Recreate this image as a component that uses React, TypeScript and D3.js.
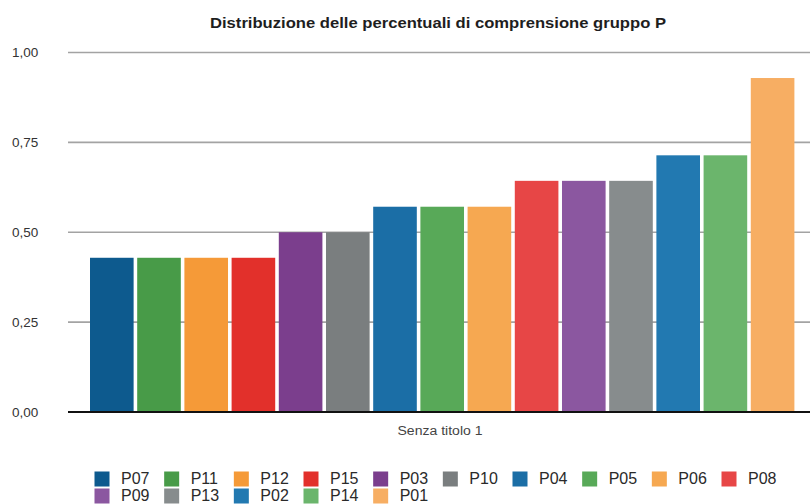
import * as d3 from "d3";

// bars, left to right (same order as the legend)
const categories = ["P07", "P11", "P12", "P15", "P03", "P10", "P04", "P05", "P06", "P08", "P09", "P13", "P02", "P14", "P01"];
const values = [0.429, 0.429, 0.429, 0.429, 0.5, 0.5, 0.571, 0.571, 0.571, 0.643, 0.643, 0.643, 0.714, 0.714, 0.929];
const colors = ["#0d5a8e", "#489b48", "#f59a38", "#e2302b", "#7b3e8d", "#7a7e7f", "#1b6ea6", "#58a958", "#f6a851", "#e74646", "#8b57a0", "#878c8d", "#2279b1", "#6bb56c", "#f7ae63"];
const yTicks = [0, 0.25, 0.5, 0.75, 1];

const title = "Distribuzione delle percentuali di comprensione gruppo P";
const xTitle = "Senza titolo 1";

const W = 810;
const H = 504;
const FONT = "'Liberation Sans', Arial, Helvetica, sans-serif";

const App = () => {
  const x = d3.scaleBand<string>()
    .domain(categories)
    .range([90, 794.4])
    .paddingInner(0.076)
    .paddingOuter(0);

  const y = d3.scaleLinear()
    .domain([0, 1])
    .range([412, 52.5]);

  const fmt = (v: number) => d3.format(".2f")(v).replace(".", ",");

  // legend: 10 per row
  const perRow = 10;
  const legX = d3.scaleLinear().domain([0, perRow - 1]).range([95, 722]);
  const legY = [479, 496];

  return (
    <svg width={W} height={H} style={{ position: "absolute", left: 0, top: 0, background: "#fff" }} fontFamily={FONT}>
      <text x={438} y={28} textAnchor="middle" fontSize={15} fontWeight="bold" fill="#1e1e1e" textLength={456} lengthAdjust="spacingAndGlyphs">
        {title}
      </text>

      {yTicks.map((t) => (
        <g key={t}>
          {t > 0 && <line x1={68} x2={W} y1={y(t)} y2={y(t)} stroke="#a3a3a3" strokeWidth={1.6} />}
          <text x={12} y={y(t) + 1} dominantBaseline="middle" fontSize={13.5} fill="#333">
            {fmt(t)}
          </text>
        </g>
      ))}

      {categories.map((c, i) => (
        <rect key={c} x={x(c)} y={y(values[i])} width={x.bandwidth()} height={y(0) - y(values[i])} fill={colors[i]} />
      ))}

      <line x1={68} x2={W} y1={y(0)} y2={y(0)} stroke="#111" strokeWidth={2} />

      <text x={440} y={435} textAnchor="middle" fontSize={12} fill="#444" textLength={85} lengthAdjust="spacingAndGlyphs">
        {xTitle}
      </text>

      {categories.map((c, i) => {
        const col = i % perRow;
        const row = Math.floor(i / perRow);
        const cx = legX(col);
        const cy = legY[row];
        return (
          <g key={"leg" + c}>
            <rect x={cx - 0.5} y={cy - 7.5} width={15} height={15} fill={colors[i]} />
            <text x={cx + 26} y={cy + 1} dominantBaseline="middle" fontSize={16} fill="#2a2a2a">
              {c}
            </text>
          </g>
        );
      })}
    </svg>
  );
};

export default App;
